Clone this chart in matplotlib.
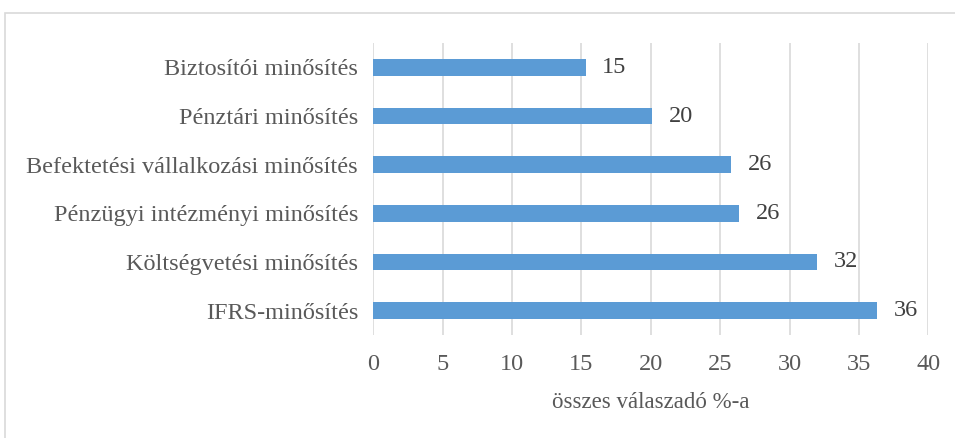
import matplotlib.pyplot as plt
from matplotlib.patches import Rectangle

categories = [
    "Biztosítói minősítés",
    "Pénztári minősítés",
    "Befektetési vállalkozási minősítés",
    "Pénzügyi intézményi minősítés",
    "Költségvetési minősítés",
    "IFRS-minősítés",
]
values = [15.3, 20.1, 25.8, 26.35, 32.0, 36.3]
value_labels = ["15", "20", "26", "26", "32", "36"]
x_ticks = [0, 5, 10, 15, 20, 25, 30, 35, 40]
x_label = "összes válaszadó %-a"

plt.rcParams["font.family"] = ["Liberation Serif", "DejaVu Serif"]

fig = plt.figure(figsize=(9.55, 4.38), dpi=100)
ax = fig.add_axes([0.3909, 0.2352, 0.972 - 0.3909, 0.9018 - 0.2352])

# light frame around the chart area
fig.patches.append(Rectangle((5 / 955, -0.1), 1.1, 1 - 13 / 438 + 0.1,
                             transform=fig.transFigure, fill=False,
                             edgecolor="#D9D9D9", linewidth=1.2))

ypos = list(range(len(categories)))
ax.barh(ypos, values, height=0.34, color="#5B9BD5", zorder=3)

for y, v, lab in zip(ypos, values, value_labels):
    ax.annotate(lab, (v, y), xytext=(12, 0), textcoords="offset points",
                va="center", ha="left", fontsize=17.5, color="#404040")

ax.set_xlim(0, 40)
ax.set_ylim(len(categories) - 0.5, -0.5)
ax.set_xticks(x_ticks)
ax.set_yticks(ypos)
ax.set_yticklabels(categories)
ax.tick_params(axis="both", length=0, labelsize=17.5, labelcolor="#595959")
ax.tick_params(axis="x", pad=14)
ax.tick_params(axis="y", pad=11)
ax.grid(axis="x", color="#D9D9D9", linewidth=1.2, zorder=0)
for s in ax.spines.values():
    s.set_visible(False)
ax.set_xlabel(x_label, fontsize=16.5, color="#595959", labelpad=12)

fig.savefig("out.png", dpi=100)
